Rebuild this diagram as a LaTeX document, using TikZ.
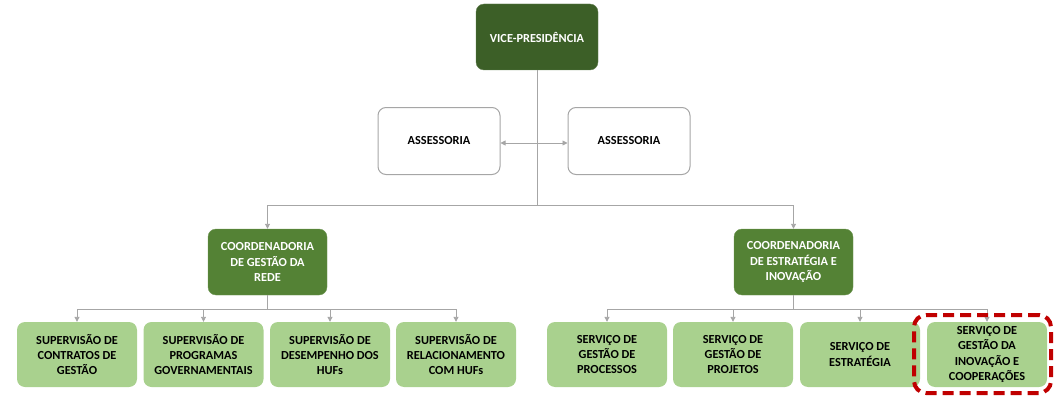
\documentclass[tikz,border=0pt]{standalone}
\usepackage{fontspec}
\setmainfont{Carlito}
\usetikzlibrary{arrows.meta}
\definecolor{vpgreen}{HTML}{3C5F27}
\definecolor{cogreen}{HTML}{548235}
\definecolor{ltgreen}{HTML}{A9D18E}
\definecolor{lineg}{HTML}{A6A6A6}
\definecolor{dred}{HTML}{C00000}
\begin{document}
\begin{tikzpicture}[x=1pt,y=-1pt,
  base/.style={rounded corners=8pt, align=center, font=\fontsize{12.3}{15.3}\selectfont\bfseries, inner sep=0pt},
  vpbox/.style={base, fill=vpgreen, draw=vpgreen!80!white, text=white, minimum width=122pt, minimum height=66pt},
  asbox/.style={base, fill=white, draw=lineg, line width=1pt, text=black, minimum width=122pt, minimum height=67pt},
  cobox/.style={base, fill=cogreen, draw=cogreen!85!white, text=white, minimum width=119pt, minimum height=66pt},
  lfbox/.style={base, fill=ltgreen, draw=none, text=black, minimum width=120pt, minimum height=65pt},
  conn/.style={draw=lineg, line width=0.9pt},
  arr/.style={conn, -{Triangle[length=5pt,width=5pt]}},
  darr/.style={conn, {Triangle[length=5pt,width=5pt]}-{Triangle[length=5pt,width=5pt]}},
  hilite/.style={draw=dred, line width=4pt, dash pattern=on 11pt off 6pt, rounded corners=12pt}
]
\useasboundingbox (0,0) rectangle (1058,396);

\node[vpbox] (vp) at (537,37) {VICE-PRESIDÊNCIA};
\node[asbox] (as1) at (439,141) {ASSESSORIA};
\node[asbox] (as2) at (629,141) {ASSESSORIA};

\node[cobox] (co1) at (267.5,262) {COORDENADORIA\\DE GESTÃO DA\\REDE};
\node[cobox] (co2) at (793.5,262) {COORDENADORIA\\DE ESTRATÉGIA E\\INOVAÇÃO};

\node[lfbox] (s1) at (77,354.5) {SUPERVISÃO DE\\CONTRATOS DE\\GESTÃO};
\node[lfbox] (s2) at (203.5,354.5) {SUPERVISÃO DE\\PROGRAMAS\\GOVERNAMENTAIS};
\node[lfbox] (s3) at (330,354.5) {SUPERVISÃO DE\\DESEMPENHO DOS\\HUFs};
\node[lfbox] (s4) at (456,354.5) {SUPERVISÃO DE\\RELACIONAMENTO\\COM HUFs};

\node[lfbox] (r1) at (607,354.5) {SERVIÇO DE\\GESTÃO DE\\PROCESSOS};
\node[lfbox] (r2) at (733,354.5) {SERVIÇO DE\\GESTÃO DE\\PROJETOS};
\node[lfbox] (r3) at (860,354.5) {SERVIÇO DE\\ESTRATÉGIA};
\node[lfbox] (r4) at (987,354.5) {SERVIÇO DE\\GESTÃO DA\\INOVAÇÃO E\\COOPERAÇÕES};

% connectors
\coordinate (vpj) at (537,205);
\draw[conn] (vp.south) -- (vpj);
\draw[darr] (as1.east |- 0,143) -- (as2.west |- 0,143);
\draw[arr] (vpj) -| (co1.north);
\draw[arr] (vpj) -| (co2.north);

\coordinate (j1) at (267.5,309);
\draw[conn] (co1.south) -- (j1);
\foreach \n in {s1,s2,s3,s4} \draw[arr] (j1) -| (\n.north);

\coordinate (j2) at (793.5,309);
\draw[conn] (co2.south) -- (j2);
\foreach \n in {r1,r2,r3,r4} \draw[arr] (j2) -| (\n.north);

% highlight
\node[hilite, fit/.code={}, minimum width=137pt, minimum height=78pt, inner sep=0pt] (hl) at (982.5,354) {};
\end{tikzpicture}
\end{document}
